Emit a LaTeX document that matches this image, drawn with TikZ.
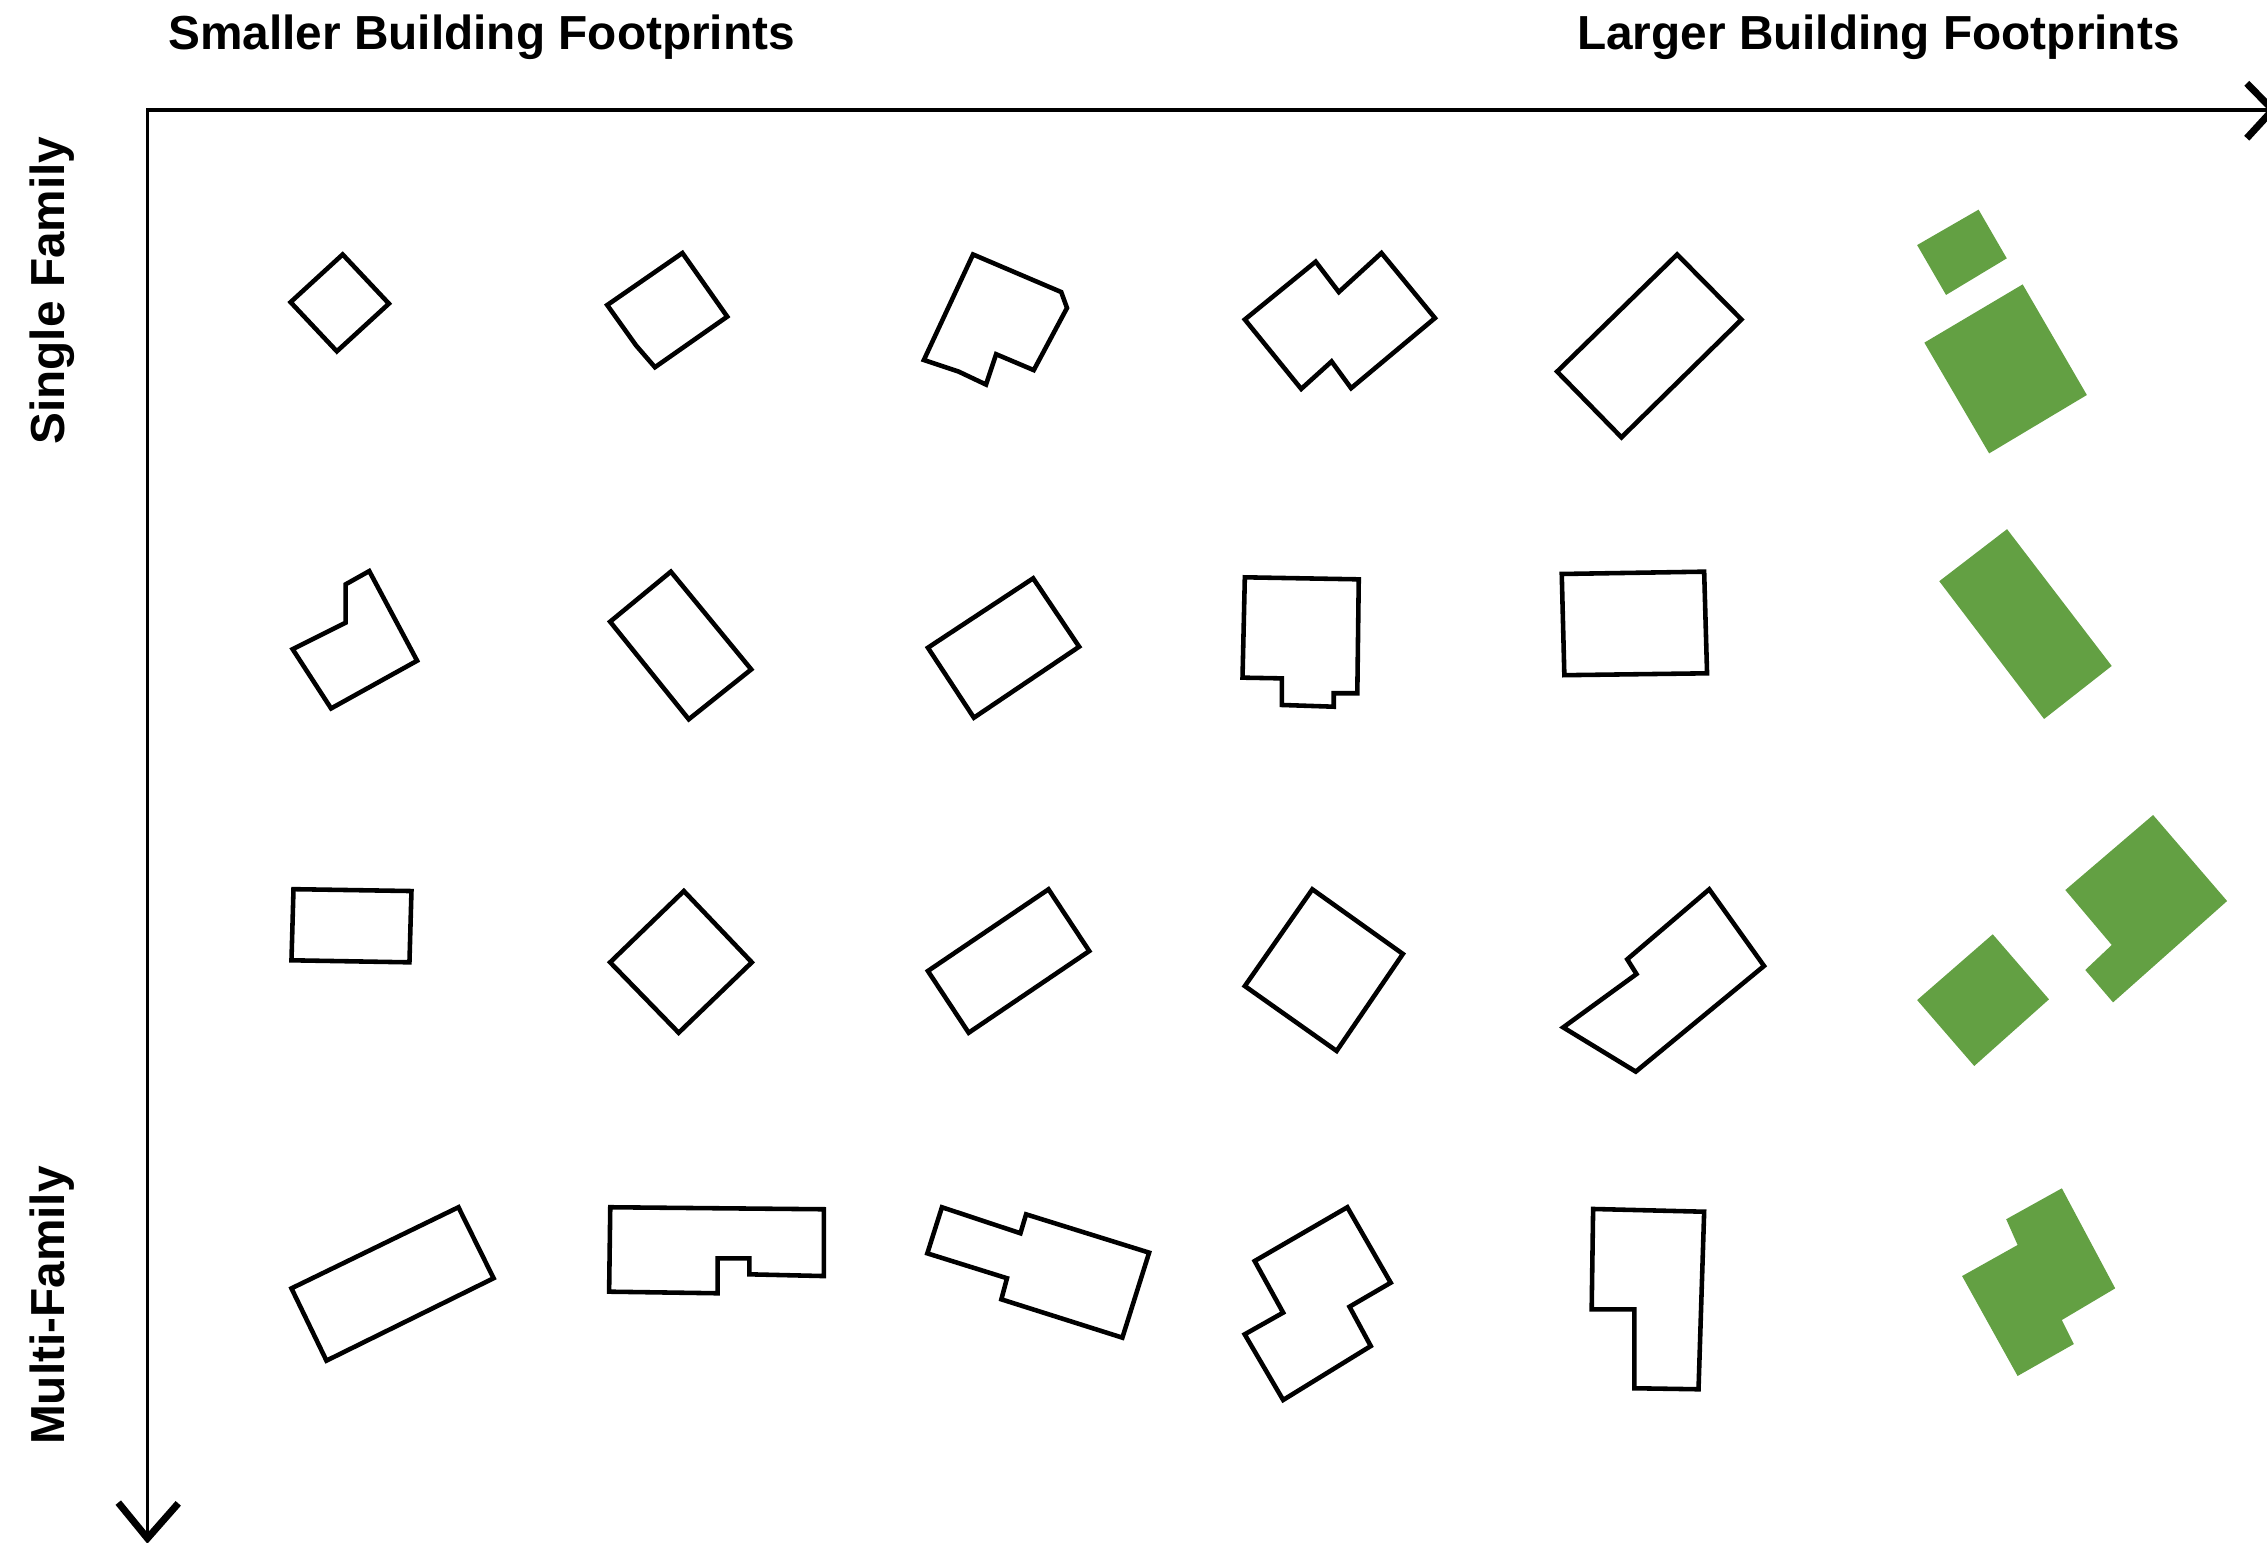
\documentclass[tikz,border=0pt]{standalone}
\usepackage{fontspec}
\setmainfont{Liberation Sans}
\definecolor{fpgreen}{RGB}{99,160,67}
\tikzset{
  bldg/.style={draw=black,line width=1.3pt,line join=miter},
  bigbldg/.style={fill=fpgreen,draw=none},
  axisline/.style={line width=1pt},
  chev/.style={line width=2pt,line join=miter},
  lbl/.style={font={\bfseries\fontsize{13.6}{16}\selectfont},inner sep=0pt}
}
\begin{document}
\begin{tikzpicture}[x=0.014458cm,y=-0.014458cm]
\path[use as bounding box,clip] (0,0) rectangle (1568,1067);

% axes
\coordinate (O) at (102,76);
\coordinate (xend) at (1572,76);
\coordinate (yend) at (102,1064);
\coordinate (xa1) at (1554,57.6);
\coordinate (xa2) at (1554,95.6);
\coordinate (ya1) at (81.8,1039.3);
\coordinate (ya2) at (123.3,1039.8);
\draw[axisline] (xend) -- (O) -- (yend);
\draw[chev] (xa1) -- (xend) -- (xa2);
\draw[chev] (ya1) -- (yend) -- (ya2);

% labels
\node[lbl,anchor=base west] (small) at (116,34) {Smaller Building Footprints};
\node[lbl,anchor=base east] (large) at (1508,34) {Larger Building Footprints};
\node[lbl,anchor=base,rotate=90] (single) at (44.5,201) {Single Family};
\node[lbl,anchor=base,rotate=90] (multi) at (44.5,903) {Multi-Family};

% row 1
\draw[bldg] (237,176) -- (269,210) -- (233,243) -- (201,209) -- cycle;
\draw[bldg] (472,175) -- (503,219) -- (453,254) -- (440,239) -- (420,211) -- cycle;
\draw[bldg] (673,176) -- (734,202) -- (738,213) -- (715,256) -- (689,245) -- (682,266) -- (663,257) -- (639,249) -- cycle;
\draw[bldg] (910,181) -- (926,202) -- (955.5,175) -- (992.5,220) -- (934.5,268.5) -- (921,250) -- (900,269) -- (861,221) -- cycle;
\draw[bldg] (1160,176) -- (1204.5,221) -- (1121.5,302.5) -- (1077,257) -- cycle;
\fill[bigbldg] (1368.5,145) -- (1388,178.7) -- (1346,204) -- (1326,169.5) -- cycle;
\fill[bigbldg] (1399,196.7) -- (1443.4,273.2) -- (1375.8,313.6) -- (1331,237) -- cycle;

% row 2
\draw[bldg] (255.4,395) -- (288.5,457) -- (229,490) -- (202.4,449) -- (239,430.7) -- (239,404.2) -- cycle;
\draw[bldg] (464,395.4) -- (519.6,463) -- (476.4,497.5) -- (422,430) -- cycle;
\draw[bldg] (714.6,400) -- (746.4,447.3) -- (673.6,496.4) -- (641.8,448) -- cycle;
\draw[bldg] (861,399.3) -- (939.8,400.7) -- (938.8,479.5) -- (922.5,479.5) -- (922.5,488.8) -- (886.6,487.6) -- (886.6,469.2) -- (859.4,468.7) -- cycle;
\draw[bldg] (1080.2,397) -- (1178.7,395.4) -- (1180.7,465.7) -- (1082,467) -- cycle;
\fill[bigbldg] (1388.2,366) -- (1460.6,460.6) -- (1413.8,497.3) -- (1341.3,402) -- cycle;

% row 3
\draw[bldg] (203,615) -- (284.6,616.3) -- (283.2,665.6) -- (201.6,664.2) -- cycle;
\draw[bldg] (473,616.3) -- (520,665.6) -- (469.4,714.3) -- (422,665.6) -- cycle;
\draw[bldg] (725.2,615.1) -- (753.4,657.8) -- (670,714.3) -- (641.8,671.6) -- cycle;
\draw[bldg] (907.7,615.1) -- (970.3,659.8) -- (924.5,726.9) -- (861,682) -- cycle;
\draw[bldg] (1182.2,615.1) -- (1220.1,668.1) -- (1131.4,741.2) -- (1081.2,710.6) -- (1131.9,673.7) -- (1125.5,663.5) -- cycle;
\fill[bigbldg] (1378.3,646.2) -- (1417.2,691.2) -- (1365.5,737.3) -- (1326,691.7) -- cycle;
\fill[bigbldg] (1489.2,563.7) -- (1540.4,623.2) -- (1461.5,693.3) -- (1442.3,670.9) -- (1460.6,653.6) -- (1428.5,615.6) -- cycle;

% row 4
\draw[bldg] (317.1,835) -- (341.4,884.1) -- (225.8,941.1) -- (201.6,891.1) -- cycle;
\draw[bldg] (422.1,835) -- (569.9,836.4) -- (569.9,882.6) -- (518.3,881.4) -- (518.3,870.3) -- (496.3,870.3) -- (496.3,894.5) -- (421.3,893.4) -- cycle;
\draw[bldg] (651.5,835) -- (705.8,853) -- (709.7,839.9) -- (794.8,866.4) -- (776.3,925.2) -- (692.6,898.7) -- (696.5,884.1) -- (641.4,866.9) -- cycle;
\draw[bldg] (931.9,835) -- (961.9,887.2) -- (933.4,903.8) -- (948.1,931) -- (887.5,968.3) -- (860.9,922.9) -- (887.5,907.9) -- (867.8,872.2) -- cycle;
\draw[bldg] (1101.9,836.2) -- (1178.7,838.1) -- (1174.8,960.9) -- (1130.4,960.2) -- (1130.4,905.6) -- (1100.9,905.6) -- cycle;
\fill[bigbldg] (1426.1,821.9) -- (1463,891.1) -- (1426.1,913) -- (1434.4,929.6) -- (1395.5,951.7) -- (1357.1,882.6) -- (1395.5,861.1) -- (1387.6,843.3) -- cycle;
\end{tikzpicture}
\end{document}
